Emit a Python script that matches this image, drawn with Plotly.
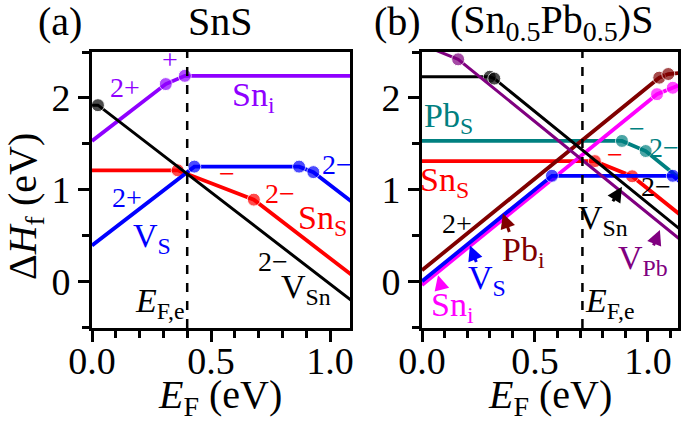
import plotly.graph_objects as go
from plotly.subplots import make_subplots

# ---- panel (a): SnS ----
efe_a = 0.40
sni_a_x = [0, 0.31, 0.39, 1.09]
sni_a_y = [1.53, 2.15, 2.24, 2.24]
vsn_a_x = [0, 0.025, 1.09]
vsn_a_y = [1.92, 1.92, -0.21]
sns_a_x = [0, 0.36, 0.68, 1.09]
sns_a_y = [1.21, 1.21, 0.89, 0.07]
vs_a_x = [0, 0.43, 0.87, 0.93, 1.09]
vs_a_y = [0.39, 1.25, 1.25, 1.19, 0.87]

# ---- panel (b): (Sn0.5Pb0.5)S ----
efe_b = 0.71
pbs_b_x = [0, 0.885, 0.99, 1.14]
pbs_b_y = [1.53, 1.53, 1.42, 1.12]
sns_b_x = [0, 0.765, 0.93, 1.14]
sns_b_y = [1.31, 1.31, 1.145, 0.73]
vs_b_x = [0, 0.575, 1.11, 1.14]
vs_b_y = [0.0, 1.15, 1.15, 1.09]
sni_b_x = [0, 1.04, 1.11, 1.14]
sni_b_y = [-0.04, 2.04, 2.11, 2.14]
pbi_b_x = [0, 1.05, 1.09, 1.14]
pbi_b_y = [0.12, 2.22, 2.26, 2.27]
vsn_b_x = [0, 0.30, 0.32, 1.14]
vsn_b_y = [2.23, 2.23, 2.21, 0.57]
vpb_b_x = [0, 0.16, 1.14]
vpb_b_y = [2.58, 2.42, 0.46]

FONT = "Liberation Serif"

fig = make_subplots(rows=1, cols=2)


def add_line(xs, ys, color, col, width=3.8):
    sizes = [0] + [13] * (len(xs) - 2) + [0]
    fig.add_trace(
        go.Scatter(
            x=xs, y=ys, mode="lines+markers",
            line=dict(color=color, width=width),
            marker=dict(color=color, size=sizes),
            showlegend=False, hoverinfo="skip",
        ),
        row=1, col=col,
    )


add_line(sni_a_x, sni_a_y, "#8F00FF", 1)
add_line(sns_a_x, sns_a_y, "#FF0000", 1)
add_line(vs_a_x, vs_a_y, "#0000FF", 1)
add_line(vsn_a_x, vsn_a_y, "black", 1, 3)

add_line(pbs_b_x, pbs_b_y, "#008080", 2)
add_line(sns_b_x, sns_b_y, "#FF0000", 2)
add_line(sni_b_x, sni_b_y, "#FF00FF", 2)
add_line(vs_b_x, vs_b_y, "#0000FF", 2)
add_line(pbi_b_x, pbi_b_y, "#800000", 2)
add_line(vsn_b_x, vsn_b_y, "black", 2, 3)
add_line(vpb_b_x, vpb_b_y, "#800080", 2, 3)

fig.add_vline(x=efe_a, line=dict(color="black", width=2.5, dash="dash"), row=1, col=1)
fig.add_vline(x=efe_b, line=dict(color="black", width=2.5, dash="dash"), row=1, col=2)

axis_common = dict(
    showline=True, linecolor="black", linewidth=3, mirror=True,
    showgrid=False, zeroline=False, automargin=False,
    ticks="outside", ticklen=11, tickwidth=3, tickcolor="black",
    tickfont=dict(family=FONT, size=38, color="black"),
)
fig.update_xaxes(
    **axis_common, tick0=0, dtick=0.5, tickformat=".1f", ticklabelstandoff=-14,
    minor=dict(dtick=0.1, ticks="outside", ticklen=7, tickwidth=2.5, tickcolor="black"),
)
fig.update_yaxes(
    **axis_common, tick0=0, dtick=1, range=[-0.51, 2.5],
    minor=dict(dtick=0.5, ticks="outside", ticklen=7, tickwidth=2.5, tickcolor="black"),
)
fig.update_xaxes(range=[0, 1.084], domain=[92 / 685, 350 / 685], row=1, col=1)
fig.update_xaxes(range=[0, 1.133], domain=[422 / 685, 678 / 685], row=1, col=2)
fig.update_yaxes(domain=[1 - 328 / 426, 1 - 52 / 426])

ann = []


def label(text, x, y, color, size=34, xref="x", **kw):
    ann.append(dict(text=text, x=x, y=y, xref=xref, yref="y", showarrow=False,
                    xanchor="center", yanchor="middle",
                    font=dict(family=FONT, size=size, color=color), **kw))


def arrow(x, y, ax, ay, color, xref="x2"):
    ann.append(dict(text="", x=x, y=y, xref=xref, yref="y", ax=ax, ay=ay,
                    showarrow=True, arrowhead=2, arrowsize=1, arrowwidth=3,
                    arrowcolor=color))


def paper(text, x, y, size=40, **kw):
    ann.append(dict(text=text, x=x / 685, y=1 - y / 426, xref="paper", yref="paper",
                    showarrow=False, xanchor="center", yanchor="middle",
                    font=dict(family=FONT, size=size, color="black"), **kw))


MINUS = "\u2212"
# panel (a) labels
label("2+", 0.139, 2.11, "#8F00FF", 28)
label("+", 0.328, 2.42, "#8F00FF", 28)
label("Sn<sub>i</sub>", 0.68, 2.01, "#8F00FF")
label(MINUS, 0.567, 1.18, "#FF0000", 28)
label("2" + MINUS, 0.79, 0.96, "#FF0000", 28)
label("Sn<sub>S</sub>", 0.97, 0.67, "#FF0000")
label("2+", 0.147, 0.91, "#0000FF", 28)
label("V<sub>S</sub>", 0.25, 0.47, "#0000FF")
label("2" + MINUS, 1.03, 1.27, "#0000FF", 28)
label("2" + MINUS, 0.76, 0.21, "black", 28)
label("V<sub>Sn</sub>", 0.90, -0.08, "black")
label("<i>E</i><sub>F,e</sub>", 0.286, -0.24, "black")

# panel (b) labels
label("Pb<sub>S</sub>", 0.119, 1.78, "#008080", xref="x2")
label("Sn<sub>S</sub>", 0.10, 1.08, "#FF0000", xref="x2")
label(MINUS, 0.95, 1.67, "#008080", 28, xref="x2")
label("2" + MINUS, 1.07, 1.46, "#008080", 28, xref="x2")
label(MINUS, 0.854, 1.38, "#FF0000", 28, xref="x2")
label("2" + MINUS, 1.035, 1.03, "black", 28, xref="x2")
label("V<sub>Sn</sub>", 0.80, 0.67, "black", xref="x2")
arrow(0.885, 1.03, -10, 16, "black")
label("V<sub>Pb</sub>", 0.978, 0.23, "#800080", xref="x2")
arrow(1.053, 0.56, -7, 17, "#800080")
label("2+", 0.155, 0.63, "black", 28, xref="x2")
label("Pb<sub>i</sub>", 0.447, 0.32, "#800000", xref="x2")
arrow(0.358, 0.74, 7, 20, "#800000")
label("V<sub>S</sub>", 0.288, 0.01, "#0000FF", xref="x2")
arrow(0.212, 0.39, 7, 18, "#0000FF")
label("Sn<sub>i</sub>", 0.133, -0.28, "#FF00FF", xref="x2")
arrow(0.071, 0.066, 4, 15, "#FF00FF")
label("<i>E</i><sub>F,e</sub>", 0.83, -0.24, "black", xref="x2")

# titles and axis titles
paper("(a)", 60, 22)
paper("SnS", 220, 22)
paper("(b)", 397, 22)
paper("(Sn<sub>0.5</sub>Pb<sub>0.5</sub>)S", 551, 22)
paper("<i>E</i><sub>F</sub> (eV)", 220, 397)
paper("<i>E</i><sub>F</sub> (eV)", 550, 397)
paper("\u0394<i>H</i><sub>f</sub> (eV)", 25, 207, textangle=-90)

fig.update_layout(
    width=685, height=426,
    margin=dict(l=0, r=0, t=0, b=0),
    plot_bgcolor="white", paper_bgcolor="white",
    annotations=ann,
    font=dict(family=FONT, color="black"),
)

fig.write_html("out.html", config={"displayModeBar": False},
               post_script="document.body.style.margin='0px';")
